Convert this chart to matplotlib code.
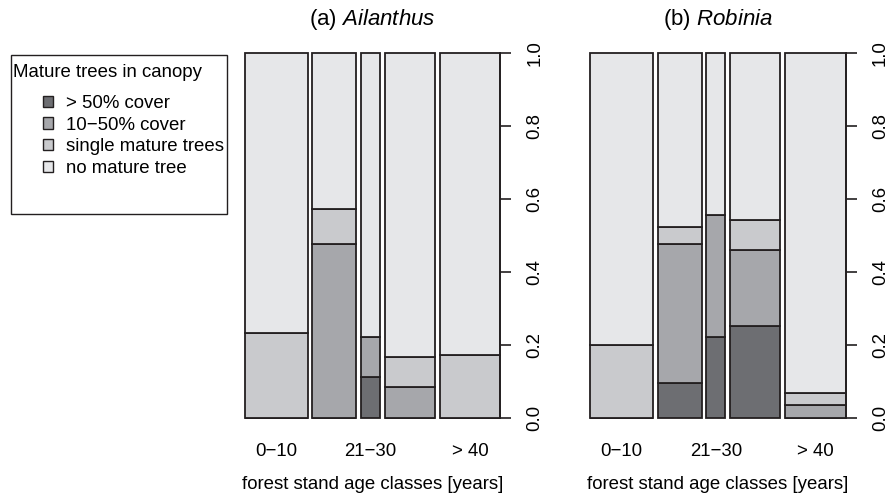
import numpy as np
import matplotlib
matplotlib.use("Agg")
import matplotlib.pyplot as plt
from matplotlib.patches import Patch, Rectangle

plt.rcParams['font.family'] = ['Liberation Sans', 'DejaVu Sans']
plt.rcParams['mathtext.fontset'] = 'custom'
plt.rcParams['mathtext.rm'] = 'Liberation Sans'
plt.rcParams['mathtext.it'] = 'Liberation Sans:italic'

# ---- data (counts of stands per age class and canopy cover class) ----
age_classes = ["0\u221210", "11\u221220", "21\u221230", "31\u221240", "> 40"]
cover_classes = ["> 50% cover", "10\u221250% cover", "single mature trees", "no mature tree"]
cover_colors = ["#6d6e72", "#a6a7ab", "#c9cacd", "#e6e7e9"]

# rows: cover classes (bottom to top), columns: age classes
ailanthus_gt50 = [0, 0, 1, 0, 0]
ailanthus_10_50 = [0, 10, 1, 2, 0]
ailanthus_single = [7, 2, 0, 2, 5]
ailanthus_none = [23, 9, 7, 20, 24]

robinia_gt50 = [0, 2, 2, 6, 0]
robinia_10_50 = [0, 8, 3, 5, 1]
robinia_single = [6, 1, 0, 2, 1]
robinia_none = [24, 10, 4, 11, 27]

panels = [
    ("(a) $\\it{Ailanthus}$", [ailanthus_gt50, ailanthus_10_50, ailanthus_single, ailanthus_none]),
    ("(b) $\\it{Robinia}$", [robinia_gt50, robinia_10_50, robinia_single, robinia_none]),
]

W, H = 890, 500
fig = plt.figure(figsize=(W / 100, H / 100), dpi=100)

ax_px = [(244.7, 500.3), (590.0, 845.7)]
y_top, y_bot = 52.7, 417.7
off = 0.02
fs = 13.4
edge = "#231f20"

for (title, rows), (xl, xr) in zip(panels, ax_px):
    ax = fig.add_axes([xl / W, 1 - y_bot / H, (xr - xl) / W, (y_bot - y_top) / H])
    tab = np.array(rows, dtype=float)          # 4 x 5
    n = tab.sum(axis=0)
    widths = n / n.sum()
    lefts = np.concatenate([[0], np.cumsum(widths + off)[:-1]])
    props = tab / n
    bottoms = np.zeros(len(n))
    for k in range(tab.shape[0]):
        ax.bar(lefts, props[k], width=widths, bottom=bottoms, align='edge',
               color=cover_colors[k], edgecolor=edge, linewidth=1.3, clip_on=False)
        bottoms += props[k]
    ax.set_xlim(0, 1 + off * (len(n) - 1))
    ax.set_ylim(0, 1)
    for s in ["top", "left", "bottom"]:
        ax.spines[s].set_visible(False)
    ax.spines["right"].set_bounds(0, 1)
    ax.spines["right"].set_linewidth(1.2)
    ax.spines["right"].set_color(edge)
    ax.yaxis.set_ticks_position("right")
    ax.set_yticks(np.linspace(0, 1, 6))
    ax.set_yticklabels([f"{v:.1f}" for v in np.linspace(0, 1, 6)], rotation=90,
                       va="center", fontsize=fs)
    ax.tick_params(axis="y", length=8, width=1.2, color=edge, pad=11)
    centers = lefts + widths / 2
    ax.set_xticks(centers[::2])
    ax.set_xticklabels(age_classes[::2], fontsize=fs)
    ax.tick_params(axis="x", length=0, pad=18)
    ax.set_xlabel("forest stand age classes [years]", fontsize=fs, labelpad=12)
    ax.set_title(title, fontsize=16, pad=20)

# legend
handles = [Patch(facecolor=c, edgecolor=edge, linewidth=1.0) for c in cover_colors]
fig.text(13.3 / W, 1 - 72.7 / H, "Mature trees in canopy", fontsize=fs, va="center", ha="left")
fig.legend(handles, cover_classes, loc="upper left", bbox_to_anchor=(43 / W, 1 - 94.7 / H),
           frameon=False, fontsize=fs, handlelength=0.55, handleheight=0.55,
           handletextpad=0.7, labelspacing=0.26, borderaxespad=0, borderpad=0)
fig.patches.append(Rectangle((10.7 / W, 1 - 214 / H), 216 / W, 159 / H,
                             transform=fig.transFigure, fill=False,
                             edgecolor=edge, linewidth=1.0))

fig.savefig("out.png", dpi=100)
